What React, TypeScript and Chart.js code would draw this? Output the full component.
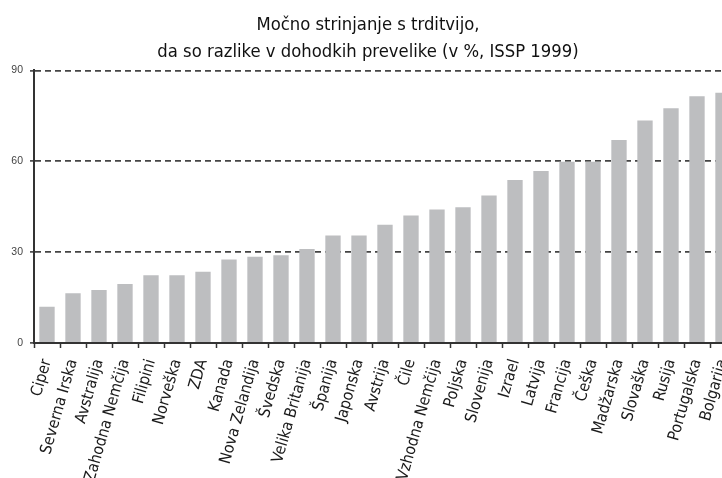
import React, { useEffect, useRef } from "react";
import { Chart, registerables } from "chart.js";

Chart.register(...registerables);

const categories = [
  "Ciper", "Severna Irska", "Avstralija", "Zahodna Nemčija", "Filipini", "Norveška", "ZDA",
  "Kanada", "Nova Zelandija", "Švedska", "Velika Britanija", "Španija", "Japonska", "Avstrija",
  "Čile", "Vzhodna Nemčija", "Poljska", "Slovenija", "Izrael", "Latvija", "Francija", "Češka",
  "Madžarska", "Slovaška", "Rusija", "Portugalska", "Bolgarija",
];
const values = [
  12, 16.4, 17.5, 19.5, 22.4, 22.4, 23.5, 27.6, 28.5, 29.0, 31.0, 35.5, 35.5, 39.0,
  42.1, 44.1, 44.8, 48.7, 53.8, 56.8, 59.8, 59.8, 67.0, 73.5, 77.5, 81.5, 82.6,
];
const titleLines = ["Močno strinjanje s trditvijo,", "da so razlike v dohodkih prevelike (v %, ISSP 1999)"];
const yMin = 0;
const yMax = 90;
const yStep = 30;

const NARROW = "'DejaVu Sans Condensed', 'Liberation Sans Narrow', 'Liberation Sans', Arial, sans-serif";

export default function App() {
  const ref = useRef<HTMLCanvasElement>(null);
  useEffect(() => {
    if (!ref.current) return;
    const chart = new Chart(ref.current, {
      type: "bar",
      data: {
        labels: categories,
        datasets: [
          {
            data: values,
            backgroundColor: "#bdbec0",
            borderWidth: 0,
            categoryPercentage: 1,
            barPercentage: 0.59,
          },
        ],
      },
      options: {
        animation: false,
        responsive: true,
        maintainAspectRatio: false,
        layout: { padding: { left: 0, right: 4, top: 0, bottom: 0 } },
        plugins: {
          legend: { display: false },
          tooltip: { enabled: false },
          title: {
            display: true,
            text: titleLines,
            color: "#111",
            font: { family: NARROW, size: 18.3, weight: "normal", lineHeight: 1.5 },
            padding: { top: 11.5, bottom: 4 },
          },
        },
        scales: {
          x: {
            offset: true,
            afterFit: (scale: any) => {
              scale.height = 135;
              scale.paddingLeft = 0;
              scale.paddingRight = 0;
            },
            grid: {
              display: true,
              drawOnChartArea: false,
              offset: true,
              tickLength: 5,
              tickColor: "#333",
              tickWidth: 1.5,
              color: "#333",
            },
            border: { display: true, color: "#333", width: 2 },
            ticks: {
              autoSkip: false,
              minRotation: 74,
              maxRotation: 74,
              padding: 9,
              color: "#1a1a1a",
              font: { family: NARROW, size: 16 },
            },
          },
          y: {
            min: yMin,
            max: yMax,
            afterFit: (scale: any) => {
              scale.width = 34;
            },
            grid: {
              color: "#444",
              lineWidth: 1.8,
              tickLength: 4,
              tickColor: "#333",
              tickWidth: 1.5,
              tickBorderDash: [],
            },
            border: { display: true, color: "#333", width: 2, dash: [6, 4] },
            ticks: {
              stepSize: yStep,
              padding: 7,
              color: "#444",
              font: { family: "'Liberation Sans', Arial, sans-serif", size: 10.5 },
            },
          },
        },
      },
    });
    return () => chart.destroy();
  }, []);
  return (
    <div
      style={{
        position: "fixed",
        left: 0,
        top: 0,
        width: 722,
        height: 478,
        overflow: "hidden",
        background: "#fff",
      }}
    >
      <div style={{ position: "relative", width: 740, height: 478 }}>
        <canvas ref={ref} />
      </div>
    </div>
  );
}
